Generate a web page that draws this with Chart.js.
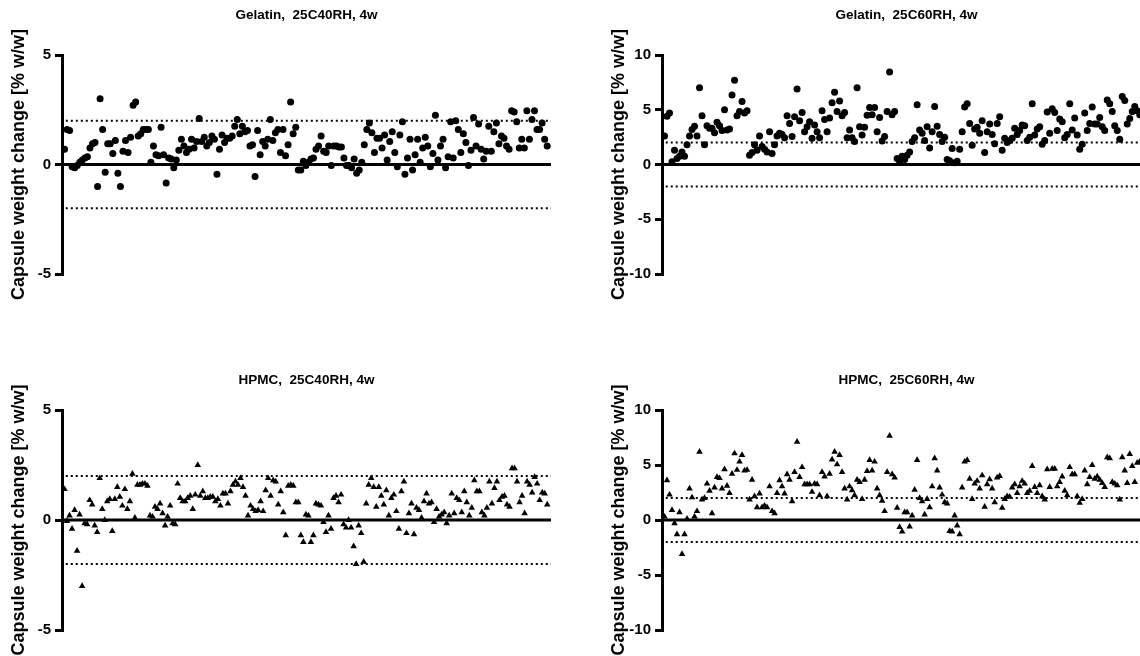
<!DOCTYPE html>
<html>
<head>
<meta charset="utf-8">
<script src="https://cdn.jsdelivr.net/npm/chart.js@4.4.1/dist/chart.umd.min.js"></script>
<style>
  html, body { margin: 0; padding: 0; background: #fff; overflow: hidden; }
  body { width: 1140px; height: 656px; position: relative; }
  .panel { position: absolute; width: 560px; }
  .top { top: 0; height: 300px; }
  .bottom { top: 355px; height: 301px; }
  .left { left: 0; }
  .right { left: 600px; }
</style>
</head>
<body>
<div class="panel top left"><canvas id="gel40"></canvas></div>
<div class="panel top right"><canvas id="gel60"></canvas></div>
<div class="panel bottom left"><canvas id="hpmc40"></canvas></div>
<div class="panel bottom right"><canvas id="hpmc60"></canvas></div>
<script>
// weight change per capsule, in measurement order
const gelatin40 = [0.7, 1.6, 1.55, -0.1, -0.15, -0.05, 0.1, 0.2, 0.3, 0.35, 0.75, 0.95, 1.0, -1.0, 3.0, 1.6, -0.35, 0.95, 0.95, 0.5,
  1.1, -0.4, -1.0, 0.6, 1.1, 0.55, 1.25, 2.7, 2.85, 1.3, 1.4, 1.6, 1.6, 1.6, 0.1, 0.85, 0.45, 0.4, 1.7, 0.45,
  -0.85, 0.3, 0.25, -0.15, 0.2, 0.65, 1.15, 0.85, 0.55, 0.7, 1.15, 0.75, 1.05, 2.1, 1.05, 1.25, 0.85, 1.0, 1.3, 1.15,
  -0.45, 0.7, 1.35, 1.0, 1.2, 1.2, 1.3, 1.75, 2.05, 1.4, 1.75, 1.5, 1.55, 0.85, 0.9, -0.55, 1.55, 0.45, 1.05, 0.85,
  1.15, 2.05, 1.1, 1.45, 1.6, 0.55, 1.6, 0.4, 0.9, 2.85, 1.4, 1.7, -0.25, -0.25, 0.15, -0.05, 0.1, 0.25, 0.3, 0.7,
  0.85, 1.3, 0.6, 0.55, 0.85, -0.05, 0.85, 0.85, 0.8, 0.8, 0.3, -0.05, -0.05, -0.15, 0.25, -0.4, -0.25, 0.1, 0.9, 1.6,
  1.9, 1.45, 0.55, 1.2, 1.2, 0.75, 1.35, 0.2, 1.05, 1.5, 0.55, -0.1, 1.35, 1.95, -0.45, 0.3, 1.15, -0.25, 0.45, 1.15,
  0.1, 0.75, 1.25, 0.85, -0.1, 0.5, 2.25, 0.2, 0.85, 1.15, -0.15, 0.35, 1.95, 0.3, 2.0, 1.6, 0.55, 1.4, 1.0, -0.05,
  0.65, 2.15, 0.85, 1.85, 0.7, 0.25, 0.6, 1.75, 0.6, 1.5, 1.9, 0.95, 1.3, 1.2, 0.85, 0.7, 2.45, 2.4, 1.95, 0.75,
  1.15, 0.75, 2.45, 1.15, 2.05, 2.45, 1.6, 1.6, 1.9, 1.15, 0.85];

const gelatin60 = [2.6, 4.4, 4.7, 0.25, 1.3, 0.55, 0.75, 1.15, 0.75, 1.8, 2.6, 3.2, 3.5, 2.6, 7.0, 4.45, 1.8, 3.55, 3.3, 3.3,
  2.9, 3.85, 3.55, 3.1, 5.0, 3.15, 3.25, 6.35, 7.7, 4.45, 4.85, 5.75, 4.7, 4.9, 0.85, 1.1, 1.8, 1.3, 2.6, 1.65,
  1.4, 1.15, 3.0, 1.0, 1.8, 2.6, 2.85, 2.75, 2.45, 4.45, 3.75, 2.55, 4.35, 6.9, 4.0, 4.75, 3.0, 3.45, 3.9, 2.4,
  3.6, 3.0, 2.45, 4.9, 4.1, 3.0, 4.25, 5.65, 6.6, 4.85, 5.8, 4.45, 4.75, 2.45, 3.15, 2.45, 2.1, 7.0, 3.45, 2.7,
  3.4, 4.5, 5.2, 4.55, 5.2, 3.0, 4.3, 2.15, 2.55, 4.85, 8.45, 4.55, 4.85, 0.55, 0.3, 0.75, 0.45, 0.85, 1.15, 2.1,
  2.45, 5.45, 3.15, 2.85, 2.2, 3.45, 1.5, 3.0, 5.3, 3.5, 2.75, 2.1, 2.5, 0.45, 0.35, 1.45, 0.15, 0.3, 1.4, 3.0,
  5.25, 5.55, 3.75, 1.75, 3.25, 3.4, 2.85, 4.0, 1.1, 3.0, 3.7, 2.75, 1.9, 3.75, 4.35, 1.3, 2.4, 2.0, 2.2, 2.4,
  3.3, 2.75, 3.1, 3.6, 3.55, 2.2, 2.5, 5.55, 2.7, 3.25, 3.45, 1.85, 2.2, 4.8, 2.85, 5.1, 4.75, 3.1, 4.15, 3.9,
  2.45, 2.75, 5.55, 3.15, 4.25, 2.7, 1.4, 1.85, 4.7, 3.1, 3.75, 5.25, 3.7, 3.7, 4.3, 3.45, 3.1, 5.9, 5.55, 4.85,
  3.55, 3.1, 2.3, 6.2, 5.85, 3.7, 4.2, 4.85, 5.3, 4.9, 4.55];

const hpmc40 = [1.4, -0.05, 0.2, -0.4, 0.45, -1.4, 0.25, -3.0, -0.15, -0.2, 0.9, 0.7, -0.25, -0.55, 1.9, 0.5, 0, 0.85, 0.95, -0.5,
  0.95, 1.5, 1.05, 0.65, 1.4, 0.5, 0.85, 2.1, 0.1, 1.6, 1.6, 1.65, 1.65, 1.55, 0.2, 0.15, 0.6, 0.5, 0.75, 0.3,
  -0.25, 0.15, 0.65, -0.15, -0.2, 1.65, 1.0, 0.85, 0.85, 1.0, 1.1, 0.5, 1.15, 2.5, 1.1, 1.3, 1.0, 1.0, 1.05, 1.05,
  0.85, 0.95, 0.65, 1.2, 1.2, 0.75, 1.3, 1.6, 1.75, 1.6, 1.9, 1.5, 1.1, 0.2, 0.65, 0.5, 0.4, 0.45, 0.85, 0.4,
  1.35, 1.9, 1.1, 1.8, 1.75, 0.7, 1.3, 0.35, -0.7, 1.55, 1.6, 1.55, 0.8, 0.8, -0.7, -1.0, 0.25, 0.2, -1.0, -0.7,
  0.75, 0.7, 0.65, -0.1, -0.55, 0.2, -0.4, 1.0, 1.1, 0.8, 1.15, -0.2, -0.35, 0, -0.35, -1.2, -2.0, -0.25, -0.6, -1.9,
  0.75, 1.6, 1.9, 1.5, 0.6, 1.5, 1.1, 0.7, 1.35, 0.2, 1.0, 1.15, 0.4, -0.4, 1.3, 1.75, -0.6, 0.3, 0.75, -0.65,
  0.55, 0.45, 0.1, 0.85, 1.2, 0.75, 0.8, -0.1, 0.5, 0.15, 0.25, 0.35, -0.15, 0.2, 1.2, 0.3, 1.0, 0.9, 0.35, 1.3,
  0.8, 0.2, 0.55, 1.8, 1.3, 1.3, 0.35, 0.2, 0.55, 1.75, 0.75, 1.45, 1.75, 0.9, 1.05, 1.1, 0.7, 0.6, 2.35, 2.35,
  1.75, 0.8, 1.1, 0.3, 1.75, 1.6, 1.25, 1.95, 1.65, 0.9, 1.25, 1.2, 0.7];

const hpmc60 = [0.3, 3.6, 2.3, 0.9, -0.3, -1.3, 0.7, -3.1, -1.3, 0.1, 2.85, 2.05, 0.3, 0.8, 6.2, 1.85, 2.0, 3.3, 2.65, 0.6,
  2.95, 3.9, 3.8, 2.85, 4.6, 3.1, 2.45, 4.2, 6.05, 4.55, 5.3, 5.9, 4.5, 4.55, 1.85, 3.65, 2.15, 1.15, 2.4, 1.15,
  1.3, 1.15, 3.05, 0.8, 0.6, 2.45, 3.6, 3.05, 2.4, 4.15, 3.65, 1.7, 4.35, 7.1, 3.9, 4.8, 3.25, 3.25, 3.25, 2.55,
  3.3, 3.25, 2.25, 4.35, 3.95, 2.15, 4.2, 5.5, 6.2, 5.05, 5.9, 4.35, 2.85, 1.85, 3.05, 2.7, 2.25, 3.65, 3.45, 1.9,
  3.65, 4.45, 5.45, 4.5, 5.3, 2.85, 2.25, 1.75, 0.8, 4.35, 7.65, 4.15, 3.85, 1.1, -0.65, -1.05, 0.7, 0.7, -0.6, 0.4,
  2.75, 5.45, 2.0, 1.7, 0.5, 1.9, 1.15, 3.05, 5.6, 4.5, 2.95, 2.3, 1.6, 1.5, -1.0, -1.05, 0.4, -0.5, -1.3, 2.95,
  5.3, 5.45, 3.75, 1.9, 3.3, 3.55, 2.85, 4.05, 1.2, 3.25, 3.7, 2.85, 1.6, 3.85, 4.0, 1.1, 1.9, 2.15, 2.1, 2.95,
  3.25, 2.45, 3.05, 3.55, 3.3, 2.45, 2.65, 4.9, 3.0, 2.45, 3.15, 2.15, 1.85, 4.6, 3.0, 4.65, 4.65, 3.05, 3.45, 3.95,
  2.65, 2.25, 4.8, 4.15, 4.15, 2.15, 1.55, 1.9, 4.5, 3.25, 3.9, 5.0, 3.75, 3.95, 3.65, 3.35, 3.0, 5.7, 5.6, 3.45,
  3.3, 3.15, 1.85, 5.7, 4.5, 3.35, 6.0, 4.9, 3.45, 5.2, 5.3];

// horizontal reference levels
const zeroLevel = 0;
const limitLevels = [-2, 2];

// y tick values
const ticks40 = [-5, 0, 5];
const ticks60 = [-10, -5, 0, 5, 10];

const yTitle = 'Capsule weight change [% w/w]';

Chart.defaults.font.family = "'Liberation Sans', Arial, sans-serif";
Chart.defaults.color = '#000';

const TITLE_SIZE = 13.5;

function makePanel(id, title, values, ticks, marker, titleMid, extraX) {
    const xMax = values.length + extraX;
    const pts = values.map((v, i) => ({ x: i + 1, y: v }));
    const level = (y, from) => [{ x: from, y: y }, { x: xMax, y: y }];
    const lineH = TITLE_SIZE * 1.2;
    const padTop = titleMid - lineH / 2;

    return new Chart(document.getElementById(id), {
        type: 'scatter',
        data: {
            datasets: [
                {
                    data: pts,
                    pointStyle: marker,
                    pointRadius: marker === 'triangle' ? 3.8 : 3.5,
                    backgroundColor: '#000',
                    borderColor: '#000',
                    borderWidth: 0
                },
                {
                    type: 'line',
                    data: level(zeroLevel, 0),
                    borderColor: '#000',
                    borderWidth: 3,
                    pointRadius: 0
                },
                ...limitLevels.map(l => ({
                    type: 'line',
                    data: level(l, 1.5),
                    borderColor: '#000',
                    borderWidth: 2,
                    borderDash: [2, 3],
                    pointRadius: 0
                }))
            ]
        },
        options: {
            responsive: true,
            maintainAspectRatio: false,
            animation: false,
            layout: { padding: { left: 0, right: 9, top: 0, bottom: 26 } },
            plugins: {
                legend: { display: false },
                tooltip: { enabled: false },
                title: {
                    display: true,
                    fullSize: false,
                    text: title,
                    color: '#000',
                    font: { size: TITLE_SIZE, weight: 'bold' },
                    padding: { top: padTop, bottom: 55 - padTop - lineH }
                }
            },
            scales: {
                x: { type: 'linear', display: false, min: 0, max: xMax },
                y: {
                    min: ticks[0],
                    max: ticks[ticks.length - 1],
                    afterFit: s => { s.width = 62; },
                    afterBuildTicks: s => { s.ticks = ticks.map(v => ({ value: v })); },
                    border: { display: true, color: '#000', width: 3 },
                    grid: {
                        drawOnChartArea: false,
                        drawTicks: true,
                        tickLength: 7,
                        tickWidth: 3,
                        tickColor: '#000',
                        color: '#000',
                        lineWidth: 3
                    },
                    ticks: { color: '#000', padding: 4, font: { size: 15, weight: 'bold' } },
                    title: {
                        display: true,
                        text: yTitle,
                        color: '#000',
                        font: { size: 18, weight: 'bold' },
                        padding: { top: 8, bottom: 0 }
                    }
                }
            }
        }
    });
}

makePanel('gel40', 'Gelatin,  25C40RH, 4w', gelatin40, ticks40, 'circle', 15, 1.5);
makePanel('gel60', 'Gelatin,  25C60RH, 4w', gelatin60, ticks60, 'circle', 15, 4.5);
makePanel('hpmc40', 'HPMC,  25C40RH, 4w', hpmc40, ticks40, 'triangle', 25, 1.5);
makePanel('hpmc60', 'HPMC,  25C60RH, 4w', hpmc60, ticks60, 'triangle', 25, 4.5);
</script>
</body>
</html>
